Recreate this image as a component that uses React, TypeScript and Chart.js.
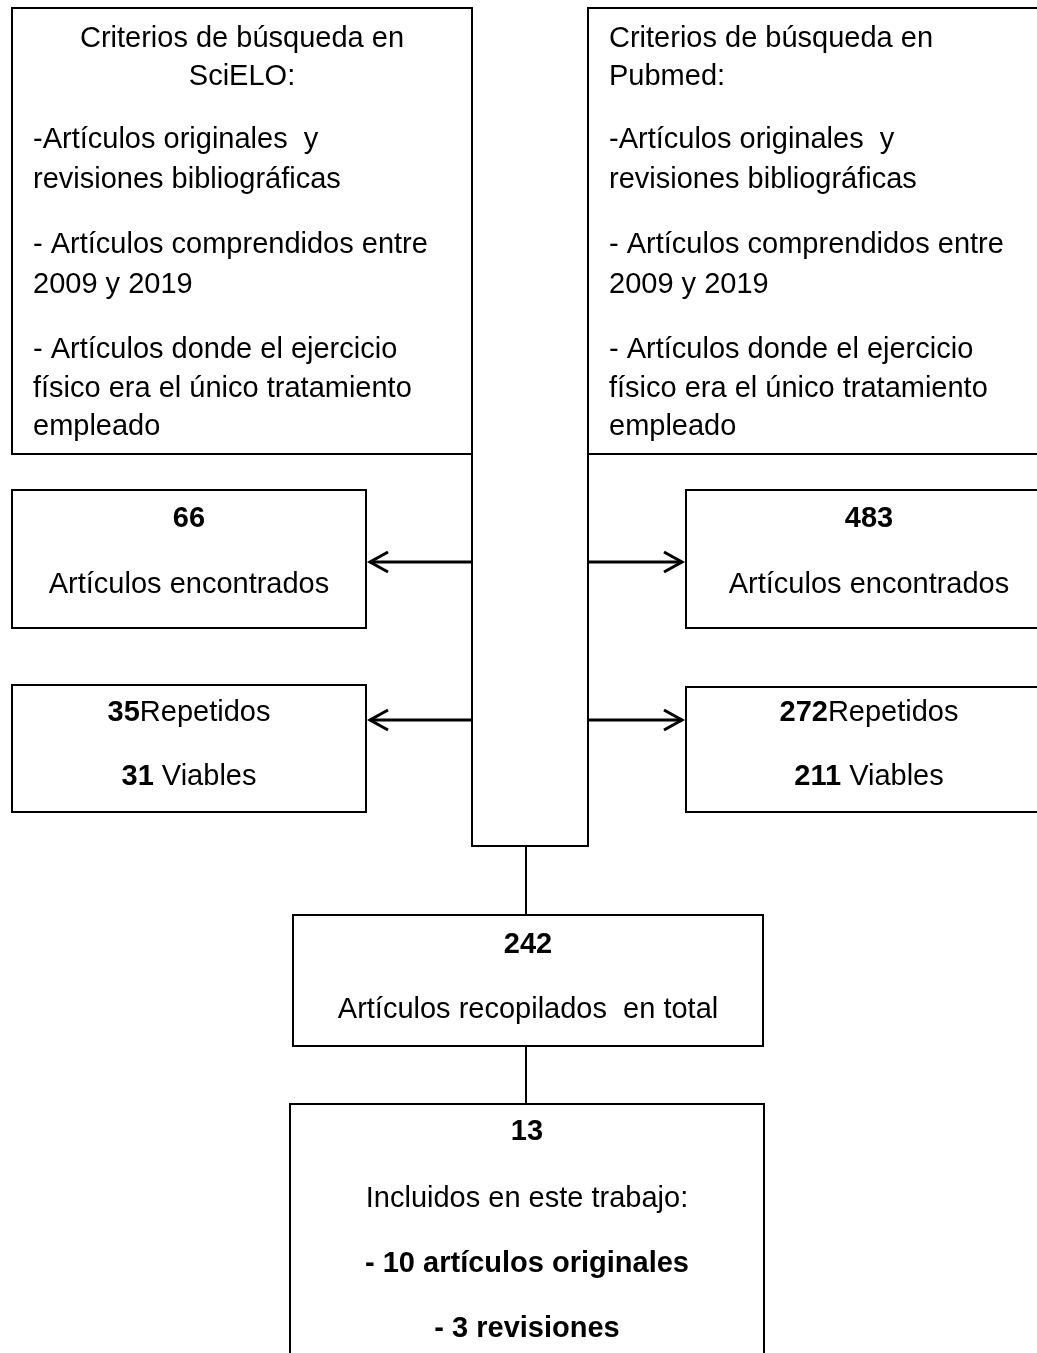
import React, { useEffect, useRef } from "react";
import { Chart, registerables } from "chart.js";

Chart.register(...registerables);

const W = 1037;
const H = 1353;
const FONT = '"Liberation Sans", Arial, Helvetica, sans-serif';
const FONT_SIZE = 29;

// Outline polylines of the flow diagram (diagram units = px of the reference)
const topFrame = [
  [472, 454], [12, 454], [12, 8], [472, 8], [472, 846], [588, 846], [588, 8], [1050, 8],
];
const topRightBottom = [[588, 454], [1050, 454]];
const boxScielo = [[12, 490], [366, 490], [366, 628], [12, 628], [12, 490], [366, 490]];
const boxScieloRep = [[12, 685], [366, 685], [366, 812], [12, 812], [12, 685], [366, 685]];
const boxPubmed = [[1050, 490], [686, 490], [686, 628], [1050, 628]];
const boxPubmedRep = [[1050, 687], [686, 687], [686, 812], [1050, 812]];
const boxTotal = [[293, 915], [763, 915], [763, 1046], [293, 1046], [293, 915], [763, 915]];
const boxIncluded = [[290, 1360], [290, 1104], [764, 1104], [764, 1360]];
const stemTop = [[526, 846], [526, 915]];
const stemBottom = [[526, 1046], [526, 1104]];
const arrowLines = [
  [[472, 562], [370, 562]],
  [[472, 720], [370, 720]],
  [[588, 562], [682, 562]],
  [[588, 720], [682, 720]],
];
const arrowHeads = [
  [[388, 552], [370, 562], [388, 572]],
  [[388, 710], [370, 720], [388, 730]],
  [[664, 552], [682, 562], [664, 572]],
  [[664, 710], [682, 720], [664, 730]],
];

// Texts
const criteriaLeftTitle = ["Criterios de búsqueda en", "SciELO:"];
const criteriaRightTitle = ["Criterios de búsqueda en", "Pubmed:"];
const criteriaItems = [
  "-Artículos originales  y",
  "revisiones bibliográficas",
  "- Artículos comprendidos entre",
  "2009 y 2019",
  "- Artículos donde el ejercicio",
  "físico era el único tratamiento",
  "empleado",
];
const criteriaBaselines = [47, 85, 148, 188, 253, 293, 358, 397, 435];
const foundScielo = "66";
const foundPubmed = "483";
const foundLabel = "Artículos encontrados";
const repeatedScielo = "35";
const repeatedPubmed = "272";
const repeatedLabel = "Repetidos";
const viableScielo = "31";
const viablePubmed = "211";
const viableLabel = " Viables";
const totalCount = "242";
const totalLabel = "Artículos recopilados  en total";
const includedCount = "13";
const includedLabel = "Incluidos en este trabajo:";
const includedOriginals = "- 10 artículos originales";
const includedReviews = "- 3 revisiones";

type Run = { text: string; bold?: boolean };
type TextItem = { x: number; y: number; align: "left" | "center"; runs: Run[] };

const textItems: TextItem[] = [
  ...criteriaLeftTitle.map((t, i) => ({ x: 242, y: criteriaBaselines[i], align: "center" as const, runs: [{ text: t }] })),
  ...criteriaItems.map((t, i) => ({ x: 33, y: criteriaBaselines[i + 2], align: "left" as const, runs: [{ text: t }] })),
  ...criteriaRightTitle.map((t, i) => ({ x: 609, y: criteriaBaselines[i], align: "left" as const, runs: [{ text: t }] })),
  ...criteriaItems.map((t, i) => ({ x: 609, y: criteriaBaselines[i + 2], align: "left" as const, runs: [{ text: t }] })),
  { x: 189, y: 527, align: "center", runs: [{ text: foundScielo, bold: true }] },
  { x: 189, y: 593, align: "center", runs: [{ text: foundLabel }] },
  { x: 869, y: 527, align: "center", runs: [{ text: foundPubmed, bold: true }] },
  { x: 869, y: 593, align: "center", runs: [{ text: foundLabel }] },
  { x: 189, y: 721, align: "center", runs: [{ text: repeatedScielo, bold: true }, { text: repeatedLabel }] },
  { x: 189, y: 785, align: "center", runs: [{ text: viableScielo, bold: true }, { text: viableLabel }] },
  { x: 869, y: 721, align: "center", runs: [{ text: repeatedPubmed, bold: true }, { text: repeatedLabel }] },
  { x: 869, y: 785, align: "center", runs: [{ text: viablePubmed, bold: true }, { text: viableLabel }] },
  { x: 528, y: 953, align: "center", runs: [{ text: totalCount, bold: true }] },
  { x: 528, y: 1018, align: "center", runs: [{ text: totalLabel }] },
  { x: 527, y: 1140, align: "center", runs: [{ text: includedCount, bold: true }] },
  { x: 527, y: 1207, align: "center", runs: [{ text: includedLabel }] },
  { x: 527, y: 1272, align: "center", runs: [{ text: includedOriginals, bold: true }] },
  { x: 527, y: 1337, align: "center", runs: [{ text: includedReviews, bold: true }] },
];

const framePolylines = [
  topFrame,
  topRightBottom,
  boxScielo,
  boxScieloRep,
  boxPubmed,
  boxPubmedRep,
  boxTotal,
  boxIncluded,
  stemTop,
  stemBottom,
];
const arrowPolylines = [...arrowLines, ...arrowHeads];

const textPlugin = {
  id: "flowText",
  afterDatasetsDraw(chart: any) {
    const ctx = chart.ctx as CanvasRenderingContext2D;
    const xs = chart.scales.x;
    const ys = chart.scales.y;
    ctx.save();
    ctx.fillStyle = "#000";
    ctx.textBaseline = "alphabetic";
    ctx.textAlign = "left";
    const fontFor = (b?: boolean) => `${b ? "bold " : ""}${FONT_SIZE}px ${FONT}`;
    for (const item of textItems) {
      let total = 0;
      const widths = item.runs.map((r) => {
        ctx.font = fontFor(r.bold);
        const w = ctx.measureText(r.text).width;
        total += w;
        return w;
      });
      let px = xs.getPixelForValue(item.x);
      const py = ys.getPixelForValue(item.y);
      if (item.align === "center") px -= total / 2;
      item.runs.forEach((r, i) => {
        ctx.font = fontFor(r.bold);
        ctx.fillText(r.text, px, py);
        px += widths[i];
      });
    }
    ctx.restore();
  },
};

const makeDataset = (pl: number[][], width: number) => ({
  data: pl.map(([x, y]) => ({ x, y })),
  showLine: true,
  borderColor: "#000",
  borderWidth: width,
  pointRadius: 0,
  pointHoverRadius: 0,
  fill: false,
  tension: 0,
  borderJoinStyle: "miter" as const,
  borderCapStyle: "butt" as const,
  clip: false as any,
});

export default function App() {
  const ref = useRef<HTMLCanvasElement | null>(null);
  useEffect(() => {
    document.body.style.margin = "0";
    const canvas = ref.current;
    if (!canvas) return;
    const chart = new Chart(canvas, {
      type: "scatter",
      data: {
        datasets: [
          ...framePolylines.map((pl) => makeDataset(pl, 2)),
          ...arrowPolylines.map((pl) => makeDataset(pl, 3)),
        ],
      },
      options: {
        animation: false,
        responsive: false,
        devicePixelRatio: 1,
        events: [],
        layout: { padding: 0 },
        plugins: { legend: { display: false }, tooltip: { enabled: false }, title: { display: false } },
        scales: {
          x: { type: "linear", min: 0, max: W, display: false },
          y: { type: "linear", min: 0, max: H, reverse: true, display: false },
        },
      },
      plugins: [textPlugin],
    });
    return () => chart.destroy();
  }, []);
  return (
    <div style={{ position: "absolute", left: 0, top: 0, width: W, height: H, background: "#fff" }}>
      <canvas ref={ref} width={W} height={H} style={{ width: W, height: H, display: "block" }} />
    </div>
  );
}
